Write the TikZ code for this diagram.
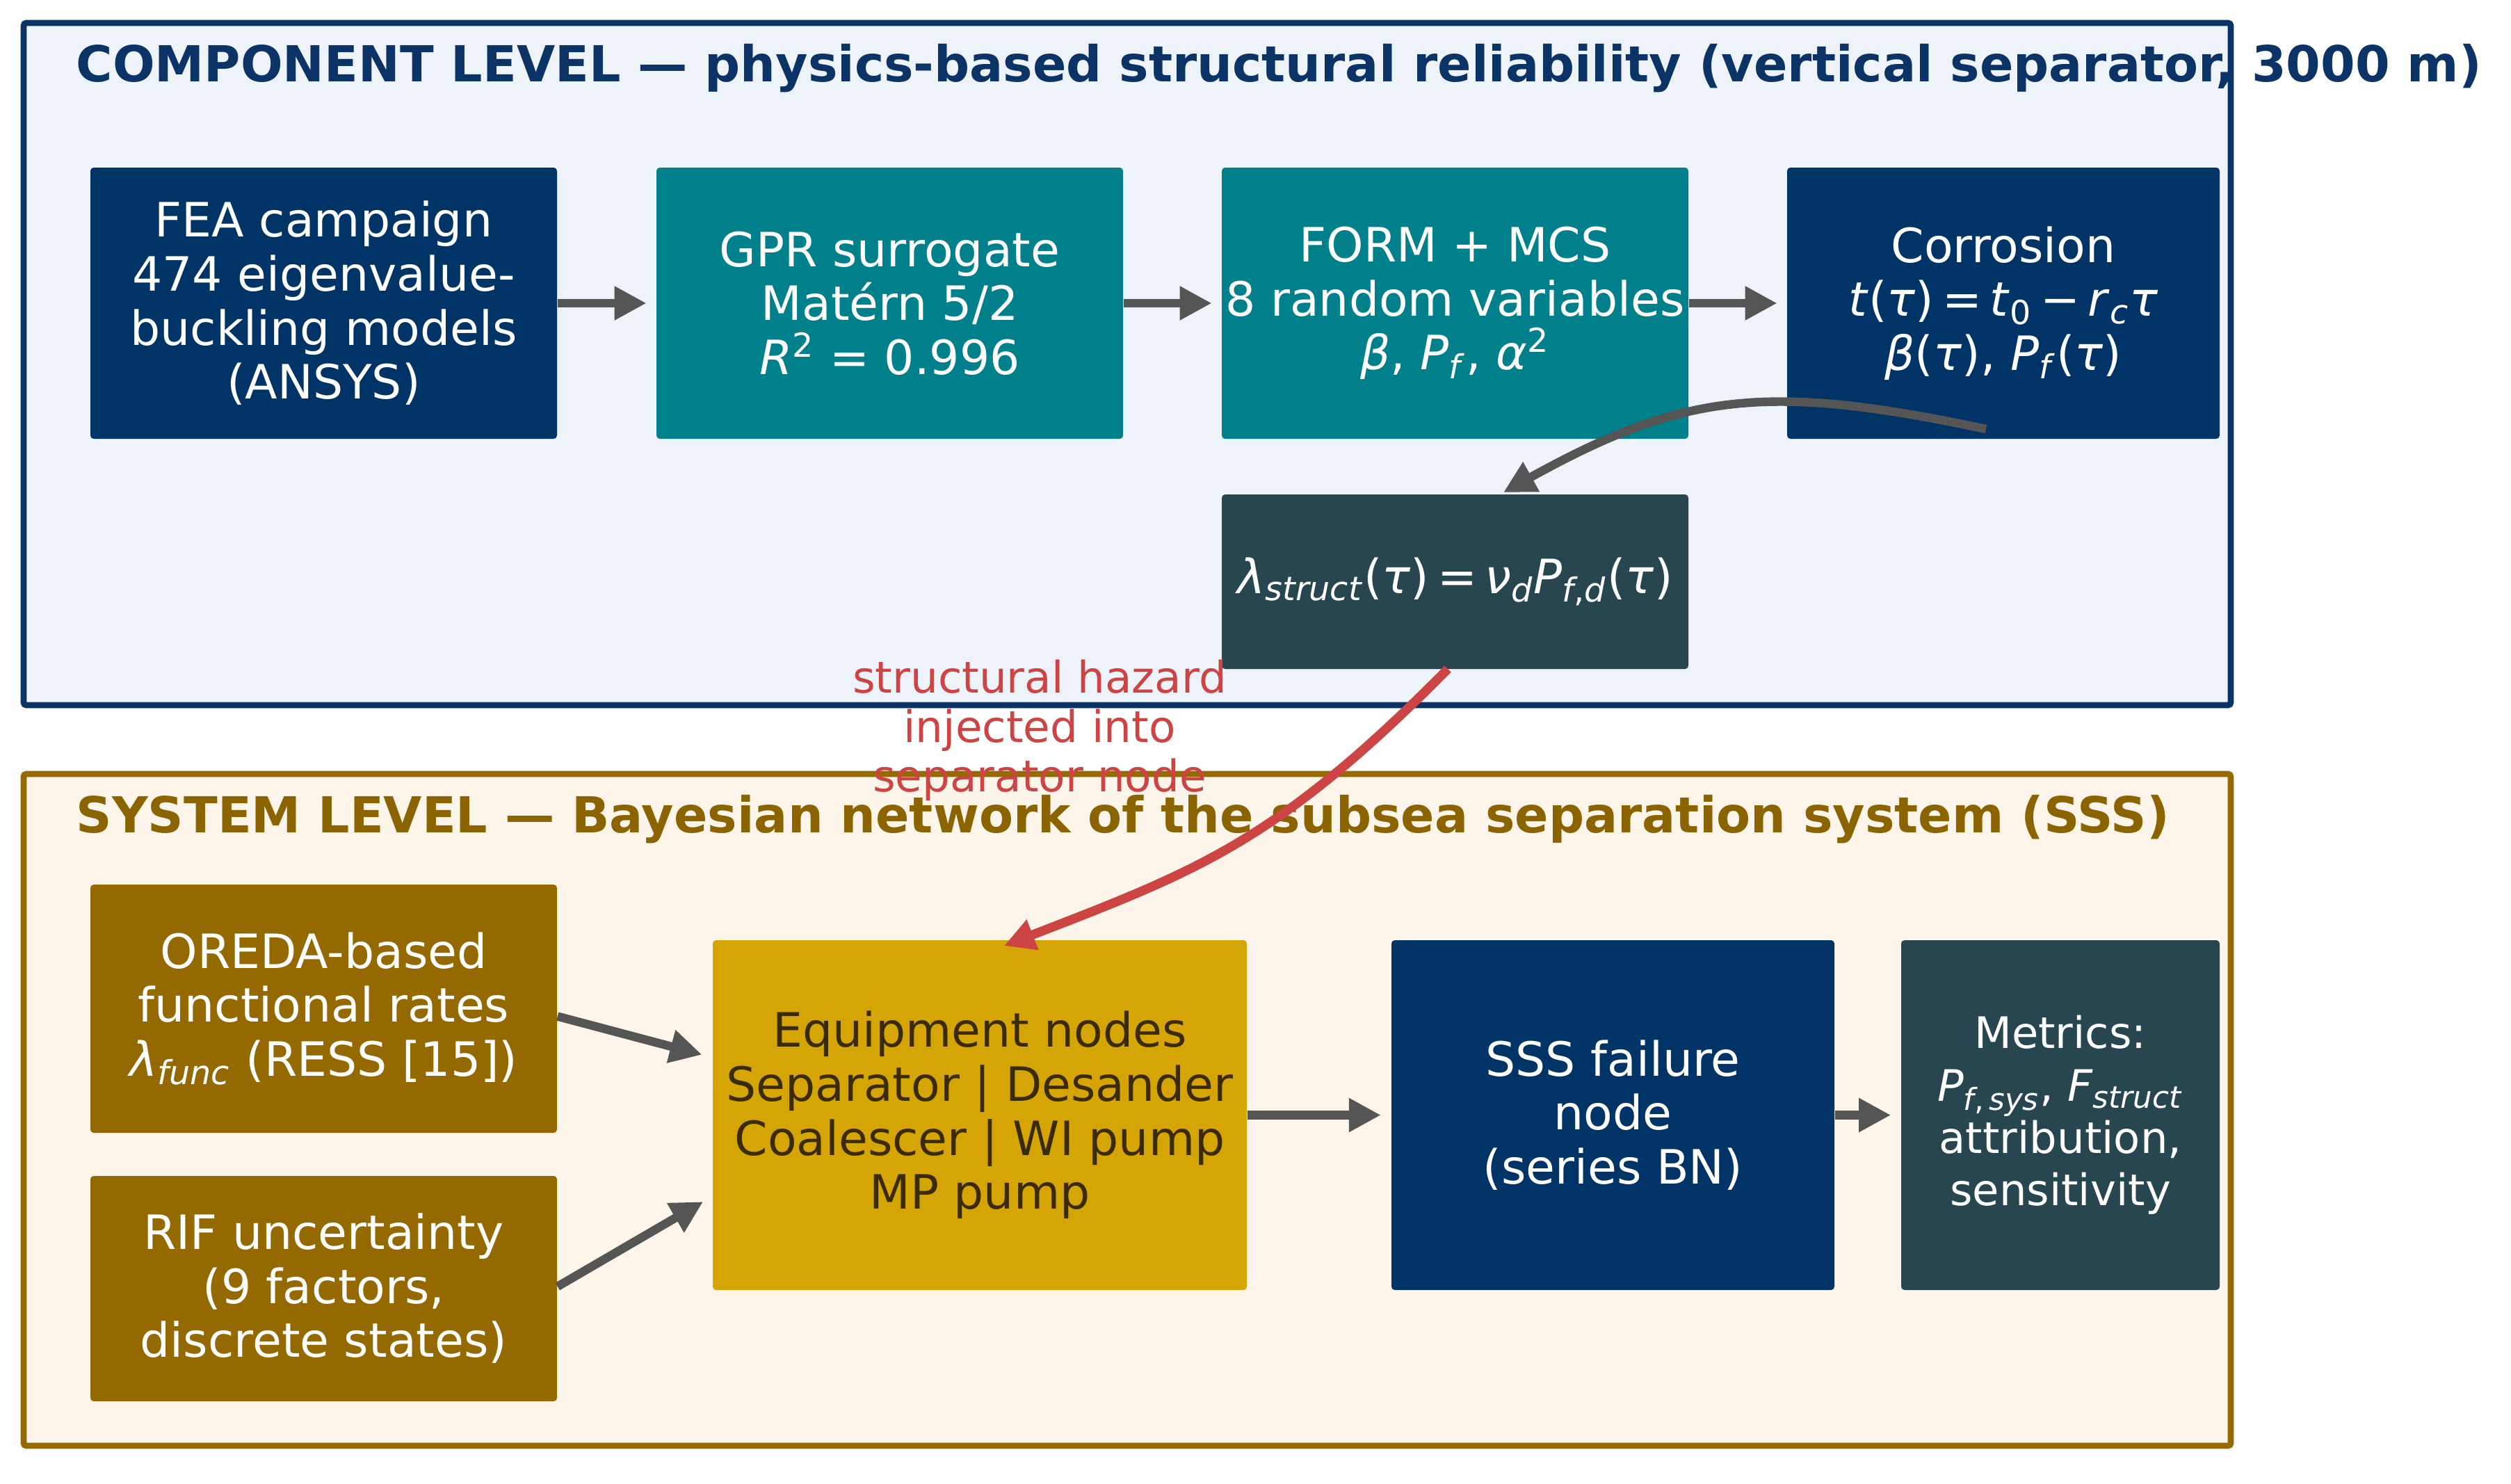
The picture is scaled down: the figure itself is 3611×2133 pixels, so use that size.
\documentclass[tikz,border=0pt]{standalone}
\usepackage{fontspec}
\setmainfont{DejaVu Sans}
\usetikzlibrary{arrows.meta,calc}
\definecolor{navy}{RGB}{0,51,102}
\definecolor{tealbox}{RGB}{0,128,138}
\definecolor{slate}{RGB}{40,70,80}
\definecolor{topfill}{RGB}{238,243,250}
\definecolor{topedge}{RGB}{11,51,102}
\definecolor{botfill}{RGB}{253,245,233}
\definecolor{botedge}{RGB}{149,106,5}
\definecolor{goldbox}{RGB}{148,106,0}
\definecolor{amber}{RGB}{212,165,5}
\definecolor{amtext}{RGB}{59,43,0}
\definecolor{bottitle}{RGB}{139,100,0}
\definecolor{arrgray}{RGB}{85,85,85}
\definecolor{hazred}{RGB}{204,68,68}
\newcommand{\vi}[1]{\textit{#1}}
\newcommand{\lo}[1]{\textsubscript{#1}}
\newcommand{\hi}[1]{\textsuperscript{#1}}
\newcommand{\ms}{\hspace{0.17em}}
\tikzset{
  box/.style={rectangle, rounded corners=1.2pt, inner sep=0pt, align=center,
    font=\fontsize{17}{19.4}\selectfont, text=white},
  arr/.style={draw=arrgray, line width=3.1pt, -{Triangle[length=11.5pt,width=11.5pt]}},
  redarr/.style={draw=hazred, line width=3.3pt, -{Triangle[length=11pt,width=11pt]}},
  frametitle/.style={anchor=base west, inner sep=0pt, font=\fontsize{17.85}{21}\selectfont\bfseries},
}
\begin{document}
\begin{tikzpicture}[x=0.25pt,y=-0.25pt]
\useasboundingbox (0,0) rectangle (3611,2133);
\fill[white] (0,0) rectangle (3611,2133);
% frames
\draw[topedge, fill=topfill, line width=2.2pt, rounded corners=1pt] (34,33) rectangle (3208,1014);
\draw[botedge, fill=botfill, line width=2.2pt, rounded corners=1pt] (34,1113) rectangle (3208,2079);
\node[frametitle, text=topedge] (ttop) at (109,117) {COMPONENT LEVEL — physics-based structural reliability (vertical separator, 3000 m)};
\node[frametitle, text=bottitle] (tbot) at (109,1197) {SYSTEM LEVEL — Bayesian network of the subsea separation system (SSS)};
% component level boxes
\node[box, fill=navy, minimum width=167.75pt, minimum height=97.5pt] (fea) at (465.5,436)
  {FEA campaign\\474 eigenvalue-\\buckling models\\(ANSYS)};
\node[box, fill=tealbox, minimum width=167.75pt, minimum height=97.5pt] (gpr) at (1279.5,436)
  {GPR surrogate\\Matérn 5/2\\\vi{R}\hi{2} = 0.996};
\node[box, fill=tealbox, minimum width=167.75pt, minimum height=97.5pt] (form) at (2092.5,436)
  {FORM + MCS\\8 random variables\\\vi{β}, \vi{P}\lo{\vi{f}}, \vi{α}\hi{2}};
\node[box, fill=navy, minimum width=155.5pt, minimum height=97.5pt] (corr) at (2881,436)
  {Corrosion\\\vi{t}(\vi{τ})\ms=\ms\vi{t}\lo{0}\ms−\ms\vi{r}\lo{\vi{c}}\vi{τ}\\\vi{β}(\vi{τ}), \vi{P}\lo{\vi{f}}(\vi{τ})};
\node[box, fill=slate, minimum width=167.75pt, minimum height=62.75pt] (lam) at (2092.5,836.5)
  {\vi{λ}\lo{\vi{struct}}(\vi{τ})\ms=\ms\vi{ν}\lo{\vi{d}}\vi{P}\lo{\vi{f},\vi{d}}(\vi{τ})};
% system level boxes
\node[box, fill=goldbox, minimum width=167.75pt, minimum height=89.25pt] (oreda) at (465.5,1450.5)
  {OREDA-based\\functional rates\\\vi{λ}\lo{\vi{func}} (RESS [15])};
\node[box, fill=goldbox, minimum width=167.75pt, minimum height=81pt] (rif) at (465.5,1853)
  {RIF uncertainty\\(9 factors,\\discrete states)};
\node[box, fill=amber, text=amtext, minimum width=192pt, minimum height=125.75pt] (equip) at (1409,1603.5)
  {Equipment nodes\\Separator | Desander\\Coalescer | WI pump\\MP pump};
\node[box, fill=navy, minimum width=159.25pt, minimum height=125.75pt] (sss) at (2319.5,1603.5)
  {SSS failure\\node\\(series BN)};
\node[box, fill=slate, minimum width=114.5pt, minimum height=125.75pt,
  font=\fontsize{15.6}{18.8}\selectfont] (met) at (2963,1603.5)
  {Metrics:\\\vi{P}\lo{\vi{f},\,\vi{sys}}, \vi{F}\lo{\vi{struct}}\\attribution,\\sensitivity};
% straight connectors
\draw[arr, shorten >=3.4pt] (fea.east) -- (gpr.west);
\draw[arr, shorten >=3.4pt] (gpr.east) -- (form.west);
\draw[arr, shorten >=3.4pt] (form.east) -- (corr.west);
\draw[arr, shorten >=3.8pt] ($(oreda.east)+(0,11)$) -- ($(equip.west)+(0,-83)$);
\draw[arr, shorten >=3.8pt] ($(rif.east)+(0,-3)$) -- ($(equip.west)+(0,117)$);
\draw[arr, shorten >=3.6pt] (equip.east) -- (sss.west);
\draw[arr, shorten >=3.5pt] (sss.east) -- (met.west);
% curved connectors
\coordinate (cstart) at (2856,617);
\coordinate (lamtop) at (2162,708);
\draw[arr] (cstart) .. controls (2540,550) and (2420,565) .. (lamtop);
\coordinate (lambot) at (2082,962);
\coordinate (eqtop) at (1444,1360);
\draw[redarr] (lambot) .. controls (1837,1210) and (1723,1252) .. (eqtop);
% label
\node[font=\fontsize{15.7}{17.8}\selectfont, text=hazred, align=center, inner sep=0pt] (lab) at (1495,1050)
  {structural hazard\\injected into\\separator node};
\end{tikzpicture}
\end{document}
